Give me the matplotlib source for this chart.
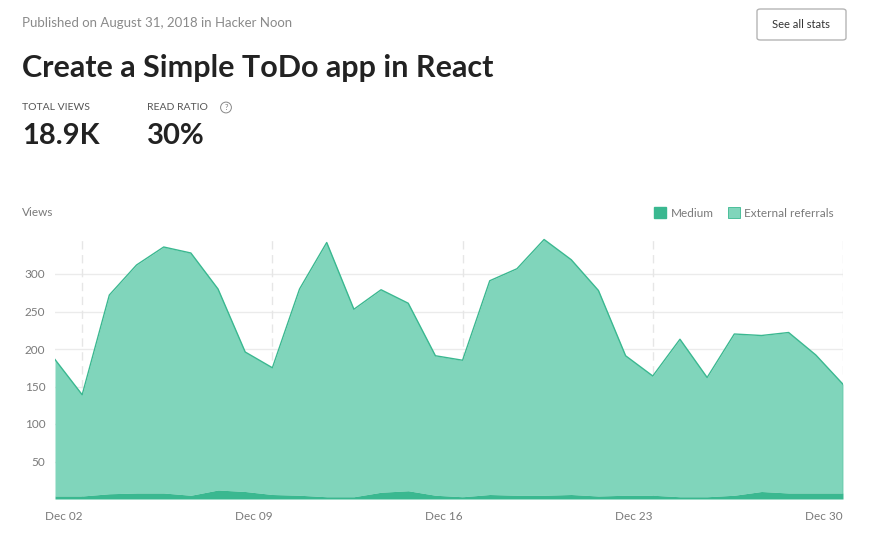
import numpy as np
import matplotlib
matplotlib.use('Agg')
import matplotlib.pyplot as plt
from matplotlib.patches import Patch, FancyBboxPatch

plt.rcParams['font.family'] = ['Lato', 'DejaVu Sans']

# data: daily views, Dec 01 .. Dec 30
days = list(range(1, 31))
total_views = [186, 139, 272, 312, 336, 328, 280, 196, 175, 280,
               342, 253, 279, 261, 191, 185, 291, 307, 346, 319,
               278, 191, 164, 213, 162, 220, 218, 222, 192, 153]
medium_views = [4, 4, 7, 8, 8, 5, 12, 10, 6, 5,
                3, 3, 9, 11, 5, 3, 6, 5, 5, 6,
                4, 5, 5, 3, 3, 5, 10, 8, 8, 8]
external_views = [t - m for t, m in zip(total_views, medium_views)]
tick_days = [2, 9, 16, 23, 30]
tick_labels = ['Dec 02', 'Dec 09', 'Dec 16', 'Dec 23', 'Dec 30']
y_ticks = [50, 100, 150, 200, 250, 300]

dark = '#3ab890'
light = '#80d5bb'
grey = '#7a7a7a'

fig = plt.figure(figsize=(8.8, 5.46), dpi=100)
W, H = 880, 546

# header
fig.text(22/W, 1 - 23/H, 'Published on August 31, 2018 in Hacker Noon',
         fontsize=9.5, color='#8a8a8a', va='center')
fig.text(22/W, 1 - 68/H, 'Create a Simple ToDo app in React',
         fontsize=22, fontweight='bold', color='#222222', va='center')
box = FancyBboxPatch((757/W, 1 - 40/H), 89/W, 31/H, boxstyle='round,pad=0,rounding_size=0.004',
                     transform=fig.transFigure, fc='white', ec='#b5b5b5', lw=1)
fig.patches.append(box)
fig.text(801/W, 1 - 24/H, 'See all stats', fontsize=8, color='#333333',
         ha='center', va='center')
fig.text(22/W, 1 - 108/H, 'TOTAL VIEWS', fontsize=7.5, color='#555555', va='center')
fig.text(147/W, 1 - 108/H, 'READ RATIO', fontsize=7.5, color='#555555', va='center')
fig.text(226/W, 1 - 107.5/H, '?', fontsize=5.5, color='#777777', ha='center', va='center',
         bbox=dict(boxstyle='circle,pad=0.25', fc='none', ec='#888888', lw=0.7))
fig.text(22/W, 1 - 136/H, '18.9K', fontsize=21, fontweight='bold', color='#222222', va='center')
fig.text(147/W, 1 - 136/H, '30%', fontsize=21, fontweight='bold', color='#222222', va='center')
fig.text(22/W, 1 - 213/H, 'Views', fontsize=8.5, color=grey, va='center')

# chart area
ax = fig.add_axes([55/W, (H - 499)/H, (843 - 55)/W, 262.5/H])
ax.set_xlim(1, 30)
ax.set_ylim(0, 350)

for v in y_ticks:
    ax.axhline(v, color='#ebebeb', lw=1, zorder=0)
for d in tick_days:
    ax.axvline(d, ymax=345/350, color='#e6e6e6', lw=1, ls=(0, (6, 4)), zorder=0)

medium = np.array(medium_views)
total = medium + np.array(external_views)
ax.fill_between(days, medium, total, color=light, lw=0, zorder=2)
ax.fill_between(days, 0, medium, color=dark, lw=0, zorder=4)
ax.plot(days, total, color=dark, lw=1, zorder=5)
ax.plot([30, 30], [0, total[-1]], color=dark, lw=1, zorder=5)

for s in ax.spines.values():
    s.set_visible(False)
ax.set_yticks(y_ticks)
ax.set_yticklabels([str(v) for v in y_ticks])
ax.set_xticks(tick_days)
ax.set_xticklabels(tick_labels)
for lab in ax.get_xticklabels():
    lab.set_horizontalalignment('right')
ax.tick_params(axis='both', length=0, labelsize=8.5, labelcolor=grey)
ax.tick_params(axis='y', pad=7)
ax.tick_params(axis='x', pad=9)

handles = [Patch(fc=dark, ec=dark, label='Medium'),
           Patch(fc=light, ec=dark, lw=0.6, label='External referrals')]
fig.legend(handles=handles, loc='center right', bbox_to_anchor=(834/W, 1 - 213/H),
           ncol=2, frameon=False, fontsize=8.5, labelcolor=grey,
           handlelength=1.0, handleheight=1.0, handletextpad=0.4, columnspacing=1.2,
           borderaxespad=0, borderpad=0)

fig.savefig('out.png', dpi=100, facecolor='white')
